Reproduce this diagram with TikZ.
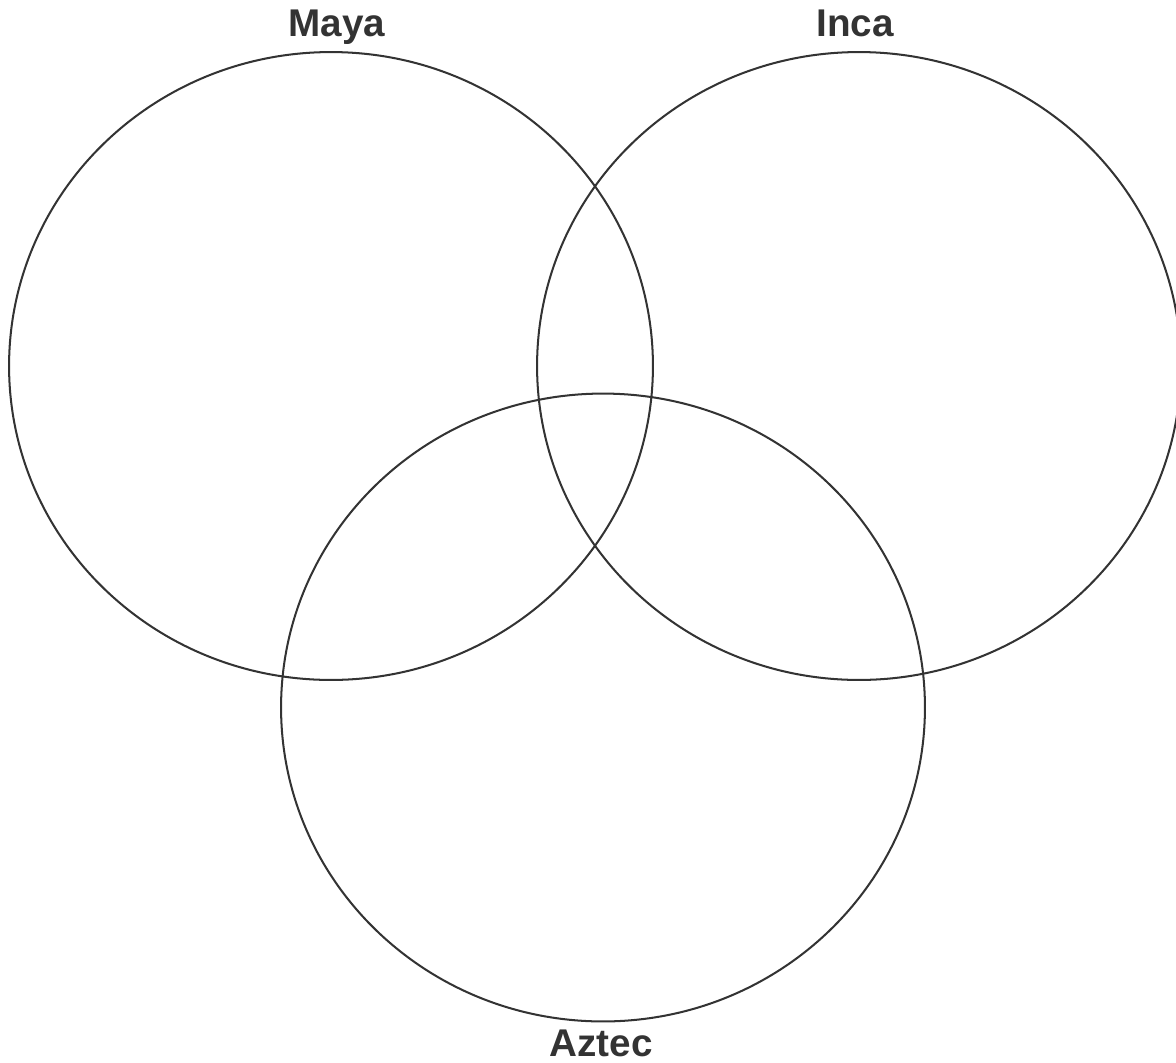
\documentclass[tikz,border=0pt]{standalone}
\usepackage{fontspec}
\setmainfont{Liberation Sans}
\usetikzlibrary{shapes.geometric}
\definecolor{InkGray}{HTML}{333333}
\tikzset{
  setring/.style={draw=InkGray,ellipse,line width=1.15pt,inner sep=0pt,
                  minimum width=12.88cm,minimum height=12.56cm},
  setname/.style={font=\fontsize{22}{26}\selectfont\bfseries,text=InkGray,
                  inner sep=0pt,anchor=base}
}
\begin{document}
\begin{tikzpicture}[x=0.02cm,y=-0.02cm]
  \useasboundingbox (0,0) rectangle (1176,1062);
  % the three sets
  \node[setring] (maya) at (331,366) {};
  \node[setring] (inca) at (859,366) {};
  \node[setring] (aztec) at (603,707.5) {};

  % set names
  \node[setname] (mayaname) at ([xshift=0.12cm,yshift=0.3cm]maya.north) {Maya};
  \node[setname] (incaname) at ([xshift=-0.08cm,yshift=0.3cm]inca.north) {Inca};
  \node[setname] (aztecname) at ([xshift=-0.04cm,yshift=-0.68cm]aztec.south) {Aztec};
\end{tikzpicture}
\end{document}
